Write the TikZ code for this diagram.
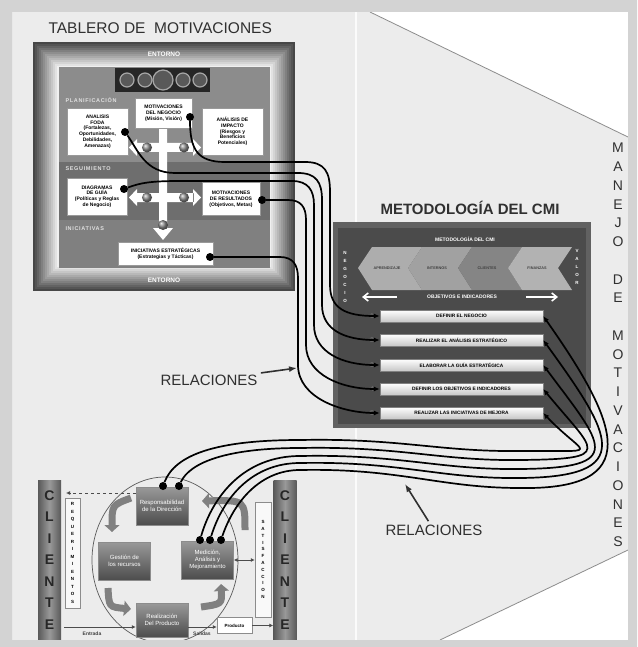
\documentclass[tikz,border=0pt]{standalone}
\usepackage{fontspec}
\setmainfont{Liberation Sans}
\usepackage{tikz}
\usetikzlibrary{arrows.meta,calc}

\definecolor{marco}{HTML}{D3D3D3}
\definecolor{fondo}{HTML}{ECECEC}
\definecolor{texto}{HTML}{303030}
\definecolor{cmifondo}{HTML}{4B4B4B}

\tikzset{
  tbox/.style={draw=black!40, fill=white, align=center, inner sep=1pt, font=\fontsize{5}{5.8}\selectfont\bfseries},
  etapa/.style={text=black!12, anchor=west, font=\fontsize{5.5}{6}\selectfont\bfseries\addfontfeatures{LetterSpace=12}},
  punto/.style={circle, fill=black, inner sep=0pt, minimum size=8pt},
  bola/.style={circle, inner sep=0pt, minimum size=10pt, ball color=black!45},
  paso/.style={draw=black!50, top color=white, bottom color=black!22, minimum width=163pt, minimum height=12pt, inner sep=0pt, font=\fontsize{4.8}{5}\selectfont\bfseries},
  perspectiva/.style={font=\fontsize{3.8}{4}\selectfont\bfseries, text=black!75},
  iso/.style={draw=black!45, top color=black!40, bottom color=black!70, text=white, align=center, minimum width=52pt, minimum height=38pt, inner sep=1pt, font=\fontsize{6}{7}\selectfont},
  cliente/.style={left color=black!65, right color=black!65, middle color=black!40, align=center, minimum width=23pt, minimum height=160pt, inner sep=0pt, text=black!85, font=\fontsize{14}{21.5}\selectfont\bfseries},
  letras/.style={align=center, inner sep=0pt, font=\fontsize{4.5}{7.5}\selectfont\bfseries},
  rel/.style={line width=1.7pt, -{Latex[length=6pt,width=5pt]}},
  ciclo/.style={draw=black!50, line width=7pt, -{Triangle[length=7pt,width=15pt]}},
  flujo/.style={black!70, line width=1pt, -{Latex[length=4pt,width=4pt]}},
  flecha/.style={texto, line width=1.6pt, -{Latex[length=8pt,width=6pt]}}
}

\begin{document}
\begin{tikzpicture}[x=1pt, y=-1pt]
\useasboundingbox (0,0) rectangle (637,647);
% fondo
\fill[fondo] (0,0) rectangle (637,647);
\fill[white] (370,12) -- (628,12) -- (628,137) -- cycle;
\fill[white] (440,640) -- (628,640) -- (628,550) -- cycle;
\draw[black!45, line width=0.8] (370,12) -- (628,137);
\draw[black!45, line width=0.8] (440,640) -- (628,550);
\draw[white!80!fondo, line width=1.5] (356,12) -- (356,640);

% tablero de motivaciones
\node[font=\fontsize{15.5}{16}\selectfont, text=texto, anchor=west] (ttab) at (45,28) {TABLERO DE~~MOTIVACIONES};
\foreach \i in {0,...,12}{
  \pgfmathsetmacro\tono{72-5.5*\i}
  \fill[black!\tono] (33+2*\i,42+2*\i) rectangle (295-2*\i,291-2*\i);
}
\fill[black!45] (59,67) rectangle (270,162);
\fill[black!57] (59,162) rectangle (270,220);
\fill[black!50] (59,220) rectangle (270,268);
\fill[black!85] (115,68) rectangle (210,92);
\foreach \gx/\gr in {127/7, 145/7, 163/10, 183/7, 200/7}
  \draw[black!35, line width=1.2, fill=black!65] (\gx,80) circle (\gr);
\node[font=\fontsize{6.5}{7}\selectfont\bfseries, text=white] (ent1) at (164,54) {ENTORNO};
\node[font=\fontsize{6.5}{7}\selectfont\bfseries, text=white] (ent2) at (164,280) {ENTORNO};
\node[etapa] (lplan) at (62,100) {PLANIFICACIÓN};
\node[etapa] (lseg) at (62,169) {SEGUIMIENTO};
\node[etapa] (lini) at (62,229) {INICIATIVAS};
% cruz blanca
\fill[white] (159,128) rectangle (167,229) (153,228) -- (173,228) -- (163,240) -- cycle;
\fill[white] (136,143) rectangle (194,152) (137,139) -- (129,147.5) -- (137,156) -- cycle (193,139) -- (201,147.5) -- (193,156) -- cycle;
\fill[white] (136,193) rectangle (194,202) (137,189) -- (129,197.5) -- (137,206) -- cycle (193,189) -- (201,197.5) -- (193,206) -- cycle;
\node[bola] (b1) at (147,147.5) {};
\node[bola] (b2) at (184,147.5) {};
\node[bola] (b3) at (147,197.5) {};
\node[bola] (b4) at (184,197.5) {};
\node[bola] (b5) at (163,225) {};
\node[tbox, minimum width=61pt, minimum height=47pt] (foda) at (97.5,131.5) {ANALISIS\\FODA\\(Fortalezas,\\Oportunidades,\\Debilidades,\\Amenazas)};
\node[tbox, minimum width=57pt, minimum height=30pt] (motneg) at (163.5,113) {MOTIVACIONES\\DEL NEGOCIO\\(Misión, Visión)};
\node[tbox, minimum width=61pt, minimum height=47pt] (impacto) at (232.5,131.5) {ANÁLISIS DE\\IMPACTO\\(Riesgos y\\Beneficios\\Potenciales)};
\node[tbox, minimum width=60pt, minimum height=37pt] (diag) at (97,196.5) {DIAGRAMAS\\DE GUÍA\\(Políticas y Reglas\\de Negocio)};
\node[tbox, minimum width=58pt, minimum height=33pt] (motres) at (231,199) {MOTIVACIONES\\DE RESULTADOS\\(Objetivos, Metas)};
\node[tbox, minimum width=95pt, minimum height=23pt] (inic) at (165.5,253.5) {INICIATIVAS ESTRATÉGICAS\\(Estrategias y Tácticas)};
\node[punto] (dmn) at (190,117) {};
\node[punto] (dfoda) at (125,132) {};
\node[punto] (ddiag) at (124,189) {};
\node[punto] (dmr) at (262,200) {};
\node[punto] (dini) at (210,257) {};

% metodologia del CMI
\node[font=\fontsize{15}{16}\selectfont\bfseries, text=texto] (tcmi) at (470,208) {METODOLOGÍA DEL CMI};
\fill[black!62] (333,222) rectangle (591,428);
\fill[cmifondo] (338,228) rectangle (586,424);
\node[font=\fontsize{5}{5}\selectfont\bfseries, text=white] (tcmi2) at (465,239) {METODOLOGÍA DEL CMI};
\foreach \x/\tono/\nombre in {358/32/APRENDIZAJE, 408/37/INTERNOS, 458/48/CLIENTES, 508/30/FINANZAS}{
  \fill[black!\tono] (\x,268) -- (\x+14,247) -- (\x+64,247) -- (\x+50,268) -- (\x+64,290) -- (\x+14,290) -- cycle;
  \node[perspectiva] (per-\nombre) at (\x+29,268) {\nombre};
}
\node[letras, text=white, font=\fontsize{4.5}{8}\selectfont\bfseries] (neg) at (345,277) {N\\E\\G\\O\\C\\I\\O};
\node[letras, text=white, font=\fontsize{4.5}{8}\selectfont\bfseries] (val) at (577,267) {V\\A\\L\\O\\R};
\node[font=\fontsize{5}{5}\selectfont\bfseries, text=white] (objind) at (462,297) {OBJETIVOS E INDICADORES};
\coordinate (oa) at (397,297);
\coordinate (oi1) at (362,297);
\coordinate (ob) at (526,297);
\coordinate (oi2) at (558,297);
\draw[white, line width=1.6, -{Straight Barb[length=5pt,width=8pt]}] (oa) -- (oi1);
\draw[white, line width=1.6, -{Straight Barb[length=5pt,width=8pt]}] (ob) -- (oi2);
\foreach \i/\y in {1/316,2/340,3/365,4/389,5/413}
  \node[font=\fontsize{7}{7}\selectfont\bfseries, text=black!58] (n\i) at (372,\y) {\i};
\node[paso] (p1) at (461.5,316) {DEFINIR EL NEGOCIO};
\node[paso] (p2) at (461.5,340) {REALIZAR EL ANÁLISIS ESTRATÉGICO};
\node[paso] (p3) at (461.5,365) {ELABORAR LA GUÍA ESTRATÉGICA};
\node[paso] (p4) at (461.5,389) {DEFINIR LOS OBJETIVOS E INDICADORES};
\node[paso] (p5) at (461.5,413) {REALIZAR LAS INICIATIVAS DE MEJORA};

% modelo de procesos
\draw[black!65, line width=0.7] (165,560) ellipse (73 and 83);
\node[cliente] (cliL) at (49.5,560) {C\\L\\I\\E\\N\\T\\E};
\node[cliente] (cliR) at (285,560) {C\\L\\I\\E\\N\\T\\E};
\node[letras, draw=black!45, fill=white!70!fondo, minimum width=15pt, minimum height=110pt] (req) at (72.5,553) {R\\E\\Q\\U\\E\\R\\I\\M\\I\\E\\N\\T\\O\\S};
\node[letras, draw=black!45, fill=white!70!fondo, minimum width=16pt, minimum height=115pt, font=\fontsize{4.5}{6.8}\selectfont\bfseries] (sat) at (263,559.5) {S\\A\\T\\I\\S\\F\\A\\C\\C\\I\\O\\N};
\draw[ciclo] (131,498) .. controls (112,505) .. (112,532);
\draw[ciclo] (108,588) .. controls (109,607) .. (131,609);
\draw[ciclo] (201,607) .. controls (222,604) .. (221,584);
\draw[ciclo] (245,530) .. controls (245,500) .. (202,501);
\node[iso] (resp) at (162,506) {Responsabilidad\\de la Dirección};
\node[iso] (gest) at (124.5,561) {Gestión de\\los recursos};
\node[iso] (med) at (207.5,560) {Medición,\\Análisis y\\Mejoramiento};
\node[iso, minimum height=34pt] (real) at (162,620) {Realización\\Del Producto};
\node[draw=black!45, fill=white, minimum width=35pt, minimum height=16pt, inner sep=0pt, font=\fontsize{4.5}{5}\selectfont\bfseries] (prod) at (234.5,625.5) {Producto};
\coordinate (dq) at (66,493);
\coordinate (ent) at (64,627);
\draw[flujo, dashed] (resp.west |- dq) -- (dq);
\draw[flujo] (ent) -- (ent -| real.west);
\draw[flujo] (real.east |- ent) -- (prod.west |- ent);
\draw[flujo] (prod.east) -- (prod.east -| cliR.west);
\draw[flujo, {Latex[length=4pt,width=4pt]}-{Latex[length=4pt,width=4pt]}] (med.east) -- (med.east -| sat.west);
\node[font=\fontsize{5}{5}\selectfont\bfseries, text=black!75] (lent) at (92,634) {Entrada};
\node[font=\fontsize{5}{5}\selectfont\bfseries, text=black!75] (lsal) at (202,634) {Salidas};
\node[punto] (dr1) at (163,486) {};
\node[punto] (dr2) at (179,486) {};
\node[punto] (dm1) at (200,540) {};
\node[punto] (dm2) at (210,540) {};
\node[punto] (dm3) at (221,540) {};

% relaciones tablero -> CMI
\draw[rel] (dmn) .. controls (190,150) and (198,162) .. (225,162) -- (305,162) .. controls (325,162) and (330,172) .. (330,192) -- (330,285) .. controls (330,308) and (345,316) .. (p1.west);
\draw[rel] (dfoda) .. controls (138,150) and (145,173) .. (175,173) -- (298,173) .. controls (316,173) and (322,182) .. (322,200) -- (322,305) .. controls (322,330) and (345,340) .. (p2.west);
\draw[rel] (ddiag) .. controls (140,183) and (150,181) .. (180,181) -- (292,181) .. controls (308,181) and (314,190) .. (314,205) -- (314,325) .. controls (314,352) and (342,365) .. (p3.west);
\draw[rel] (dmr) -- (288,200) .. controls (301,200) and (306,207) .. (306,220) -- (306,345) .. controls (306,375) and (342,389) .. (p4.west);
\draw[rel] (dini) -- (280,257) .. controls (293,257) and (298,265) .. (298,278) -- (298,365) .. controls (298,398) and (342,413) .. (p5.west);

% relaciones procesos -> CMI
\draw[rel] (dr1) .. controls (175,455) and (215,440) .. (300,440) .. controls (400,438) and (440,452) .. (520,451) .. controls (605,450) and (586,458) .. (p5.east);
\draw[rel] (dr2) .. controls (190,462) and (228,448) .. (300,448) .. controls (400,446) and (440,461) .. (520,460) .. controls (616,459) and (595,452) .. (p4.east);
\draw[rel] (dm1) .. controls (213,495) and (245,456) .. (300,456) .. controls (400,454) and (440,470) .. (520,469) .. controls (628,468) and (603,445) .. (p3.east);
\draw[rel] (dm2) .. controls (223,498) and (252,463) .. (300,463) .. controls (400,461) and (440,479) .. (520,478) .. controls (638,477) and (612,435) .. (p2.east);
\draw[rel] (dm3) .. controls (234,502) and (260,470) .. (300,470) .. controls (400,468) and (440,488) .. (520,488) .. controls (645,490) and (620,425) .. (p1.east);

\node[font=\fontsize{15}{16}\selectfont, text=texto] (rel1) at (209,380) {RELACIONES};
\coordinate (r1) at (297,368);
\draw[flecha] (rel1) -- (r1);
\node[font=\fontsize{15}{16}\selectfont, text=texto] (rel2) at (434,530) {RELACIONES};
\coordinate (r2) at (405,484);
\draw[flecha] (rel2) -- (r2);

\node[font=\fontsize{14}{18.75}\selectfont, text=texto, align=center, inner sep=0pt] (manejo) at (618,345) {M\\A\\N\\E\\J\\O\\\mbox{}\\D\\E\\\mbox{}\\M\\O\\T\\I\\V\\A\\C\\I\\O\\N\\E\\S};

% marco
\fill[marco, even odd rule] (0,0) rectangle (637,647) (12,12) rectangle (628,640);
\end{tikzpicture}
\end{document}
